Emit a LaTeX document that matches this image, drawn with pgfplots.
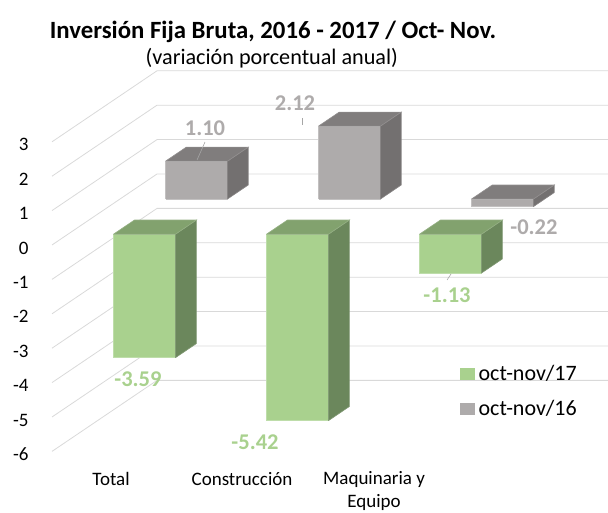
\documentclass[border=0pt]{standalone}
\usepackage{pgfplots}
\pgfplotsset{compat=1.18}
\usepackage{fontspec}
\setmainfont{Carlito}
\definecolor{gridc}{HTML}{D9D9D9}
\definecolor{greenF}{HTML}{A9D18E}
\definecolor{greenT}{HTML}{82A26E}
\definecolor{greenS}{HTML}{6B875C}
\definecolor{grayF}{HTML}{AEABAB}
\definecolor{grayT}{HTML}{807D7D}
\definecolor{grayS}{HTML}{737070}
\definecolor{leader}{HTML}{A6A6A6}
% #1 x0, #2 x1, #3 d0, #4 d1, #5 zlow, #6 ztop, #7 series
\newcommand{\cuboid}[7]{%
 \addplot3[no markers, fill=#7F, draw=#7F!75!white, line width=0.6pt] coordinates {(#1,#3,#5) (#2,#3,#5) (#2,#3,#6) (#1,#3,#6) (#1,#3,#5)};
 \addplot3[no markers, fill=#7S, draw=#7S!85!white, line width=0.6pt] coordinates {(#2,#3,#5) (#2,#4,#5) (#2,#4,#6) (#2,#3,#6) (#2,#3,#5)};
 \addplot3[no markers, fill=#7T, draw=#7T!85!white, line width=0.6pt] coordinates {(#1,#3,#6) (#2,#3,#6) (#2,#4,#6) (#1,#4,#6) (#1,#3,#6)};
}
\newcommand{\lblfont}{\bfseries\fontsize{22.5}{26}\selectfont}
\begin{document}
\begin{tikzpicture}
\begin{axis}[
 x={(153pt,0pt)}, y={(105pt,71pt)}, z={(0pt,34.4pt)},
 xmin=-0.5, xmax=2.5, ymin=0, ymax=1, zmin=-6, zmax=3,
 hide axis, clip=false,
 legend style={at={(0.7235,0.232)}, anchor=north west, draw=none, fill=none,
   font=\fontsize{22}{26}\selectfont, row sep=14pt, inner sep=0pt,
   nodes={inner xsep=4pt}},
 legend cell align=left,
]
\addlegendimage{legend image code/.code={\fill[greenF] (0pt,-5.5pt) rectangle (14pt,5.5pt);}}
\addlegendentry{oct-nov/17}
\addlegendimage{legend image code/.code={\fill[grayF] (0pt,-5.5pt) rectangle (14pt,5.5pt);}}
\addlegendentry{oct-nov/16}

% grid: side wall diagonals and back wall horizontals
\pgfplotsinvokeforeach{-6,-5,-4,-3,-2,-1,0,1,2,3}{
 \addplot3[no markers, gridc, line width=0.8pt] coordinates {(-0.5,0,#1) (-0.5,1,#1) (2.5,1,#1)};
 \node[anchor=east, font=\fontsize{19}{23}\selectfont] at (axis cs:-0.5,0,#1) [xshift=-20pt, yshift=-3pt] {#1};
}

% back row: oct-nov/16
\cuboid{-0.2025}{0.2025}{0.648}{0.845}{0}{1.10}{gray}
\cuboid{0.7975}{1.2025}{0.648}{0.845}{0}{2.12}{gray}
\cuboid{1.7975}{2.2025}{0.648}{0.845}{-0.22}{0}{gray}

% front row: oct-nov/17
\cuboid{-0.2025}{0.2025}{0.152}{0.352}{-3.59}{0}{green}
\cuboid{0.7975}{1.2025}{0.152}{0.352}{-5.42}{0}{green}
\cuboid{1.7975}{2.2025}{0.152}{0.352}{-1.13}{0}{green}

% leader lines
\draw[leader, line width=0.6pt] (axis cs:0.5,0,2.994) -- (axis cs:0.448,0,2.471);
\draw[leader, line width=0.6pt] (axis cs:1.134,0,3.692) -- (axis cs:1.134,0,3.488);
\draw[leader, line width=0.6pt] (axis cs:2.108,0,-0.843) -- (axis cs:2.082,0,-1.017);

% data labels
\node[grayF] at (axis cs:0.5,0,3.40) {\lblfont 1.10};
\node[grayF] at (axis cs:1.088,0,4.13) {\lblfont 2.12};
\node[grayF] at (axis cs:2.650,0,0.523) {\lblfont -0.22};
\node[greenF] at (axis cs:0.062,0,-3.895) {\lblfont -3.59};
\node[greenF] at (axis cs:0.827,0,-5.727) {\lblfont -5.42};
\node[greenF] at (axis cs:2.082,0,-1.453) {\lblfont -1.13};

% category labels
\begin{scope}[font=\fontsize{19}{23}\selectfont]
\node at (axis cs:-0.114,0,-6.80) {Total};
\node at (axis cs:0.742,0,-6.80) {Construcción};
\node[align=center] at (axis cs:1.605,0,-7.15) {Maquinaria y\\Equipo};
\end{scope}

% titles
\node[font=\bfseries\fontsize{24.8}{29}\selectfont] at (axis cs:0.944,0,6.19) {Inversión Fija Bruta, 2016 - 2017 / Oct- Nov.};
\node[font=\fontsize{22.2}{26}\selectfont] at (axis cs:0.937,0,5.44) {(variación porcentual anual)};

\coordinate (O) at (axis cs:-0.5,0,-6);
\end{axis}
\pgfresetboundingbox
\path[use as bounding box] ([shift={(-52pt,-61.6pt)}]O) rectangle ([shift={(556pt,451.4pt)}]O);
\end{tikzpicture}
\end{document}
